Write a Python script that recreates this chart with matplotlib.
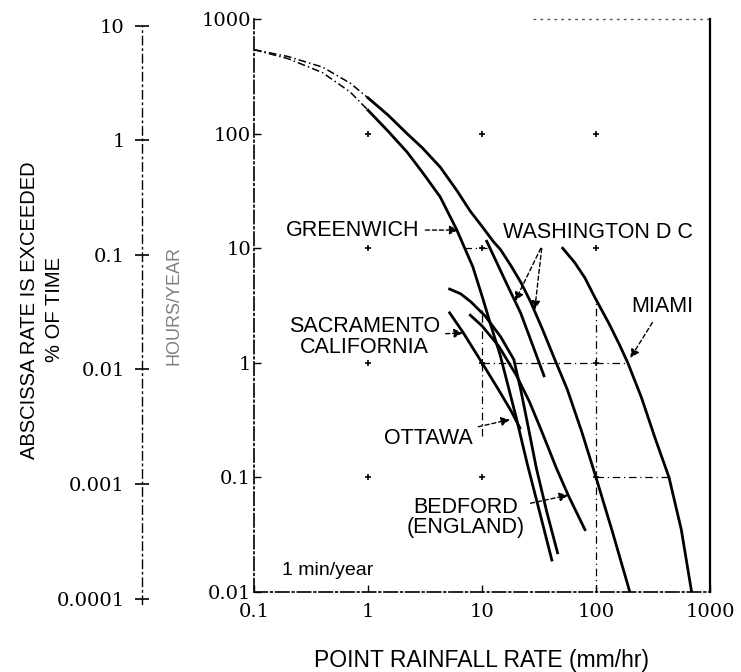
import numpy as np
import matplotlib
matplotlib.use("Agg")
import matplotlib.pyplot as plt

# ---------------- data ----------------
# rain rate (mm/hr) vs hours per year the rate is exceeded
wash1_x = [0.1, 0.2, 0.4, 0.7, 1.0, 1.5, 2.2, 3.0, 4.3, 6.0, 7.9, 10, 12.6, 14.5, 18, 22, 26.7, 34, 43, 56, 75, 100, 140, 198]
wash1_y = [540, 470, 380, 275, 205, 145, 100, 75, 51, 32, 21, 15.5, 11.4, 9.75, 7.0, 5.0, 3.4, 1.95, 1.1, 0.585, 0.25, 0.1, 0.033, 0.01]

green_x = [0.1, 0.2, 0.4, 0.7, 1.0, 1.5, 2.2, 3.0, 4.3, 6.0, 8.3, 10.2, 12, 14.5, 17, 20, 25, 32, 41]
green_y = [540, 450, 340, 230, 160, 105, 69, 46, 28, 14.5, 6.9, 3.6, 2.1, 1.15, 0.62, 0.33, 0.13, 0.05, 0.019]

wash2_x = [11, 11.9, 16, 21.8, 28, 35]
wash2_y = [11.5, 9.75, 5.2, 2.73, 1.4, 0.77]

miami_x = [51, 65, 80, 98, 130, 160, 190, 250, 330, 437, 560, 690]
miami_y = [10, 7.5, 5.5, 3.7, 2.2, 1.45, 1.0, 0.5, 0.22, 0.1, 0.035, 0.01]

sacr_x = [5.2, 6.5, 8, 10.7, 14.5, 19, 21.8, 25, 30, 37, 46]
sacr_y = [4.4, 4.0, 3.4, 2.55, 1.7, 1.07, 0.59, 0.3, 0.12, 0.05, 0.022]

ottawa_x = [5.2, 6.8, 10, 14, 18, 21.5]
ottawa_y = [2.73, 1.85, 1.0, 0.58, 0.38, 0.27]

bedford_x = [7.9, 10, 14, 20, 26, 33, 45, 57, 80]
bedford_y = [2.6, 2.1, 1.4, 0.78, 0.46, 0.26, 0.12, 0.07, 0.035]

x_ticks = [0.1, 1, 10, 100, 1000]
x_tick_labels = ["0.1", "1", "10", "100", "1000"]
y_ticks = [0.01, 0.1, 1, 10, 100, 1000]
y_tick_labels = ["0.01", "0.1", "1", "10", "100", "1000"]
pct_ticks = [10, 1, 0.1, 0.01, 0.001, 0.0001]
pct_tick_labels = ["10", "1", "0.1", "0.01", "0.001", "0.0001"]
HOURS_PER_YEAR = 8766.0

# ---------------- layout ----------------
W, H = 741, 672
fig = plt.figure(figsize=(W / 100, H / 100), dpi=100)
fig.patch.set_facecolor("white")

SANS = ["Liberation Sans", "DejaVu Sans"]
SERIF = ["DejaVu Serif", "Liberation Serif"]

ax_l, ax_r, ax_t, ax_b = 254, 710, 19, 592
ax = fig.add_axes([ax_l / W, 1 - ax_b / H, (ax_r - ax_l) / W, (ax_b - ax_t) / H])
ax.set_xscale("log")
ax.set_yscale("log")
ax.set_xlim(0.1, 1000)
ax.set_ylim(0.01, 1000)
ax.set_xticks(x_ticks)
ax.set_xticklabels(x_tick_labels, fontfamily=SERIF, fontsize=14)
ax.set_yticks(y_ticks)
ax.set_yticklabels(y_tick_labels, fontfamily=SERIF, fontsize=14)
ax.minorticks_off()
ax.tick_params(axis="both", direction="in", length=5, width=1)
ax.tick_params(axis="y", pad=2)
ax.tick_params(axis="x", pad=8)
ax.spines["top"].set_visible(False)
ax.spines["left"].set_linestyle((0, (8, 2, 1, 2)))
ax.spines["bottom"].set_linestyle((0, (8, 2, 1, 2)))
for s in ("left", "bottom"):
    ax.spines[s].set_linewidth(1.2)
ax.spines["right"].set_linewidth(1.6)
# faint dotted remnant of the top frame
ax.plot([28, 1000], [1000, 1000], color="0.35", lw=1, ls=(0, (2, 3)), clip_on=False)

# grid fragments (dash-dot) and decade crosses
dd = (0, (6, 3, 1, 3))
ax.plot([100, 100], [0.01, 3.7], color="k", lw=0.9, ls=dd)
ax.plot([10, 10], [0.23, 2.9], color="k", lw=0.9, ls=dd)
ax.plot([10, 190], [1, 1], color="k", lw=0.9, ls=dd)
ax.plot([100, 437], [0.1, 0.1], color="k", lw=0.9, ls=dd)
ax.plot([7, 11], [10, 10], color="k", lw=0.9, ls=dd)
gx, gy = np.meshgrid(x_ticks[1:4], y_ticks[1:5])
ax.plot(gx.ravel(), gy.ravel(), ls="none", marker="+", ms=5, mew=1.2, color="k")

# ---------------- curves ----------------
LW = 2.0
SPLIT = 5  # first points of the two top curves are drawn dash-dotted
ax.plot(wash1_x[:SPLIT], wash1_y[:SPLIT], color="k", lw=1.1, ls=(0, (5, 2, 1, 2)))
ax.plot(wash1_x[SPLIT - 1:], wash1_y[SPLIT - 1:], color="k", lw=LW)
ax.plot(green_x[:SPLIT], green_y[:SPLIT], color="k", lw=1.1, ls=(0, (5, 2, 1, 2)))
ax.plot(green_x[SPLIT - 1:], green_y[SPLIT - 1:], color="k", lw=LW)
for xs, ys in [(wash2_x, wash2_y), (miami_x, miami_y), (sacr_x, sacr_y),
               (ottawa_x, ottawa_y), (bedford_x, bedford_y)]:
    ax.plot(xs, ys, color="k", lw=LW)

# ---------------- annotations ----------------
arrow = dict(arrowstyle="-|>", color="k", lw=1.0, ls=(0, (3, 2)), mutation_scale=13,
             shrinkA=2, shrinkB=0)
lab = dict(fontfamily=SANS, fontsize=15.5, color="k")

ax.annotate("GREENWICH", xy=(6.2, 14.4), xytext=(2.85, 14.4), ha="right", va="center",
            arrowprops=arrow, **lab)
ax.text(15.2, 13.8, "WASHINGTON D C", ha="left", va="center", **lab)
ax.annotate("", xy=(19.5, 3.46), xytext=(33.6, 10.5), arrowprops=arrow)
ax.annotate("", xy=(29, 2.9), xytext=(33.6, 10.5), arrowprops=arrow)
ax.annotate("MIAMI", xy=(200, 1.1), xytext=(380, 3.07), ha="center", va="center",
            arrowprops=arrow, **lab)
ax.annotate("SACRAMENTO\nCALIFORNIA", xy=(6.8, 1.82), xytext=(4.29, 1.68),
            ha="right", va="center", multialignment="center", linespacing=0.95,
            arrowprops=arrow, **lab)
ax.annotate("OTTAWA", xy=(17.6, 0.32), xytext=(8.3, 0.22), ha="right", va="center",
            arrowprops=arrow, **lab)
ax.annotate("BEDFORD\n(ENGLAND)", xy=(57, 0.07), xytext=(7.24, 0.045),
            ha="center", va="center", linespacing=0.95, arrowprops=arrow, **lab)
ax.text(0.176, 0.0155, "1 min/year", ha="left", va="center", fontfamily=SANS,
        fontsize=14)

ax.set_xlabel("POINT RAINFALL RATE (mm/hr)", fontfamily=SANS, fontsize=16.5, labelpad=20)
ax.set_ylabel("HOURS/YEAR", fontfamily=SANS, fontsize=13, color="0.5")
ax.yaxis.set_label_coords((183 - ax_l) / (ax_r - ax_l), 0.5)

# ---------------- percent-of-time axis ----------------
top_pct, bot_pct = 10.0, 0.00009
dec_px = (ax_b - ax_t) / 5.0
top_px = ax_t + (np.log10(1000 / HOURS_PER_YEAR * 100) - np.log10(top_pct)) * dec_px
bot_px = ax_b + (np.log10(0.01 / HOURS_PER_YEAR * 100) - np.log10(bot_pct)) * dec_px
ax2 = fig.add_axes([142 / W, 1 - bot_px / H, 0.0005, (bot_px - top_px) / H])
ax2.set_yscale("log")
ax2.set_ylim(bot_pct, top_pct)
ax2.set_yticks(pct_ticks)
ax2.set_yticklabels(pct_tick_labels, fontfamily=SERIF, fontsize=14)
ax2.minorticks_off()
ax2.set_xticks([])
for s in ("top", "right", "bottom"):
    ax2.spines[s].set_visible(False)
ax2.spines["left"].set_linestyle((0, (6, 3, 1, 3)))
ax2.spines["left"].set_linewidth(1.0)
ax2.tick_params(axis="y", direction="inout", length=10, width=1.2, pad=7.5)
ax2.patch.set_visible(False)

fig.text(30 / W, 1 - 310 / H, "ABSCISSA RATE IS EXCEEDED", rotation=90, ha="center",
         va="center", fontfamily=SANS, fontsize=14.5)
fig.text(55 / W, 1 - 310 / H, "% OF TIME", rotation=90, ha="center", va="center",
         fontfamily=SANS, fontsize=14.5)

fig.savefig("out.png", dpi=100, facecolor="white")
